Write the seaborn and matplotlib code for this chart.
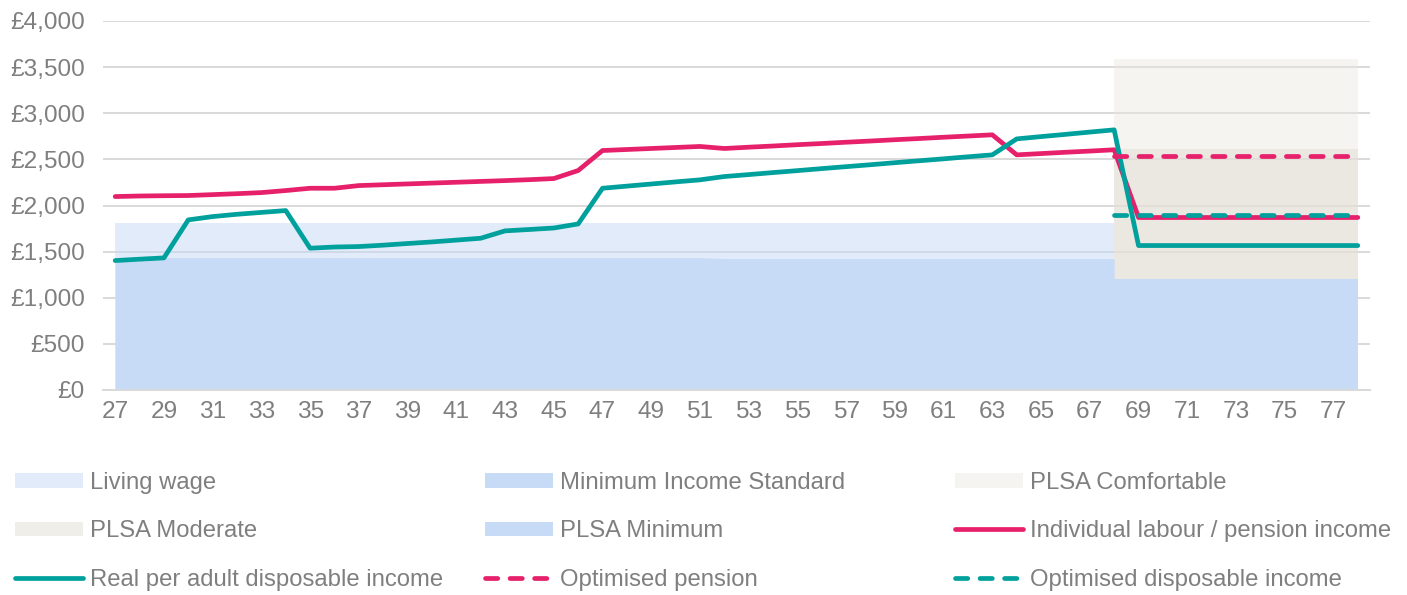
import matplotlib
matplotlib.use("Agg")
import matplotlib.pyplot as plt
import seaborn as sns
import pandas as pd
from matplotlib.patches import Patch
from matplotlib.lines import Line2D
from matplotlib.ticker import FuncFormatter

# ---------------- data ----------------
ages = list(range(27, 79))
individual_income = [2097, 2103, 2106, 2108, 2118, 2128, 2140, 2162, 2187, 2187,
                     2216, 2225, 2234, 2243, 2252, 2261, 2270, 2280, 2292, 2379,
                     2596, 2607, 2618, 2629, 2640,
                     2618, 2632, 2645, 2659, 2672, 2686, 2699, 2713, 2726, 2740, 2753, 2766,
                     2549, 2563, 2577, 2590, 2604,
                     1870, 1870, 1870, 1870, 1870, 1870, 1870, 1870, 1870, 1870]
disposable_income = [1403, 1418, 1432, 1844, 1880, 1905, 1925, 1945,
                     1537, 1550, 1555, 1570, 1588, 1605, 1625, 1645, 1725, 1740, 1756, 1800,
                     2187, 2210, 2233, 2256, 2278,
                     2314, 2335, 2357, 2378, 2400, 2421, 2442, 2464, 2485, 2506, 2528, 2549,
                     2722, 2747, 2771, 2796, 2820,
                     1566, 1566, 1566, 1566, 1566, 1566, 1566, 1566, 1566, 1566]

work_ages = list(range(27, 69))
living_wage = [1815, 1815, 1815, 1815, 1815, 1815, 1815, 1815, 1815, 1815,
               1815, 1815, 1815, 1815, 1815, 1815, 1815, 1815, 1815, 1815,
               1815, 1815, 1815, 1815, 1815, 1815, 1815, 1815, 1815, 1815,
               1815, 1815, 1815, 1815, 1815, 1815, 1815, 1815, 1815, 1815,
               1815, 1815]
min_income_standard = [1435, 1435, 1435, 1435, 1435, 1435, 1435, 1435, 1435, 1435,
                       1435, 1435, 1435, 1435, 1435, 1435, 1435, 1435, 1435, 1435,
                       1435, 1435, 1435, 1435, 1435, 1425, 1425, 1425, 1425, 1425,
                       1425, 1425, 1425, 1425, 1425, 1425, 1425, 1425, 1425, 1425,
                       1425, 1425]

retire_ages = list(range(68, 79))
plsa_comfortable = [3590, 3590, 3590, 3590, 3590, 3590, 3590, 3590, 3590, 3590, 3590]
plsa_moderate = [2610, 2610, 2610, 2610, 2610, 2610, 2610, 2610, 2610, 2610, 2610]
plsa_minimum = [1200, 1200, 1200, 1200, 1200, 1200, 1200, 1200, 1200, 1200, 1200]
optimised_pension = [2541, 2541, 2541, 2541, 2541, 2541, 2541, 2541, 2541, 2541, 2541]
optimised_disposable = [1898, 1898, 1898, 1898, 1898, 1898, 1898, 1898, 1898, 1898, 1898]

x_ticks = list(range(27, 78, 2))
y_ticks = [0, 500, 1000, 1500, 2000, 2500, 3000, 3500, 4000]

# ---------------- style ----------------
sns.set_theme(style="white")
plt.rcParams['font.family'] = ['Liberation Sans', 'DejaVu Sans']

PINK = '#E6206B'
TEAL = '#00A19D'
BLUE = '#C8DBF6'
GREY_TXT = '#7F7F7F'
GRID = '#D9D9D9'

fig = plt.figure(figsize=(14.07, 5.95), dpi=100)
ax = fig.add_axes([103 / 1407, 1 - 390 / 595, 1267 / 1407, 369 / 595])

# areas
ax.fill_between(work_ages, 0, living_wage, color='#C5D9F5', alpha=0.5, lw=0, zorder=1)
ax.fill_between(work_ages, 0, min_income_standard, color=BLUE, lw=0, zorder=1.1)
ax.fill_between(retire_ages, 0, plsa_comfortable, color='#EAE7DF', alpha=0.45, lw=0, zorder=1)
ax.fill_between(retire_ages, 0, plsa_moderate, color='#E3DED3', alpha=0.5, lw=0, zorder=1.05)
ax.fill_between(retire_ages, 0, plsa_minimum, color=BLUE, lw=0, zorder=1.1)

df = pd.DataFrame({'age': ages, 'individual': individual_income,
                   'disposable': disposable_income})
dfr = pd.DataFrame({'age': retire_ages, 'pension': optimised_pension,
                    'opt_disp': optimised_disposable})

LW = 3.4
sns.lineplot(data=df, x='age', y='individual', color=PINK, lw=LW, ax=ax,
             solid_capstyle='round', solid_joinstyle='round', zorder=4)
sns.lineplot(data=df, x='age', y='disposable', color=TEAL, lw=LW, ax=ax,
             solid_capstyle='round', solid_joinstyle='round', zorder=5)
sns.lineplot(data=dfr, x='age', y='pension', color=PINK, lw=LW, ax=ax, zorder=6)
ln = ax.lines[-1]
ln.set_linestyle((0, (2.6, 2.6)))
ln.set_dash_capstyle('round')
sns.lineplot(data=dfr, x='age', y='opt_disp', color=TEAL, lw=LW, ax=ax, zorder=7)
ln = ax.lines[-1]
ln.set_linestyle((0, (2.6, 2.6)))
ln.set_dash_capstyle('round')

# axes
ax.set_xlim(26.5, 78.5)
ax.set_ylim(0, 4000)
ax.set_xticks(x_ticks)
ax.set_yticks(y_ticks)
ax.yaxis.set_major_formatter(FuncFormatter(lambda v, p: '£{:,.0f}'.format(v)))
ax.set_xlabel('')
ax.set_ylabel('')
ax.set_axisbelow(True)
ax.yaxis.grid(True, color=GRID, lw=1.4)
ax.xaxis.grid(False)
for s in ['top', 'right', 'left']:
    ax.spines[s].set_visible(False)
ax.spines['bottom'].set_color(GRID)
ax.spines['bottom'].set_linewidth(1.4)
ax.spines['bottom'].set_zorder(3)
ax.tick_params(axis='both', length=0, labelsize=17.6, labelcolor=GREY_TXT)
ax.tick_params(axis='y', pad=13)
ax.tick_params(axis='x', pad=8)

# legend (three columns)
def dashed(color):
    return Line2D([], [], color=color, lw=LW, linestyle=(0, (2.6, 2.6)),
                  dash_capstyle='round')

def solid(color):
    return Line2D([], [], color=color, lw=LW, solid_capstyle='round')

cols = [
    ([Patch(facecolor='#C5D9F5', alpha=0.5, lw=0),
      Patch(facecolor='#E3DED3', alpha=0.5, lw=0),
      solid(TEAL)],
     ['Living wage', 'PLSA Moderate', 'Real per adult disposable income']),
    ([Patch(facecolor=BLUE, lw=0),
      Patch(facecolor=BLUE, lw=0),
      dashed(PINK)],
     ['Minimum Income Standard', 'PLSA Minimum', 'Optimised pension']),
    ([Patch(facecolor='#EAE7DF', alpha=0.45, lw=0),
      solid(PINK),
      dashed(TEAL)],
     ['PLSA Comfortable', 'Individual labour / pension income', 'Optimised disposable income']),
]
FS = 17.2
xs = [15 / 1407, 485 / 1407, 955 / 1407]
for (h, l), x0 in zip(cols, xs):
    fig.legend(h, l, loc='upper left', bbox_to_anchor=(x0, 1 - 472 / 595),
               frameon=False, borderpad=0, borderaxespad=0,
               handlelength=68 / (FS * 100 / 72), handleheight=0.56,
               handletextpad=7 / (FS * 100 / 72),
               labelspacing=1.1, fontsize=FS, labelcolor=GREY_TXT)

fig.savefig('out.png', dpi=100)
